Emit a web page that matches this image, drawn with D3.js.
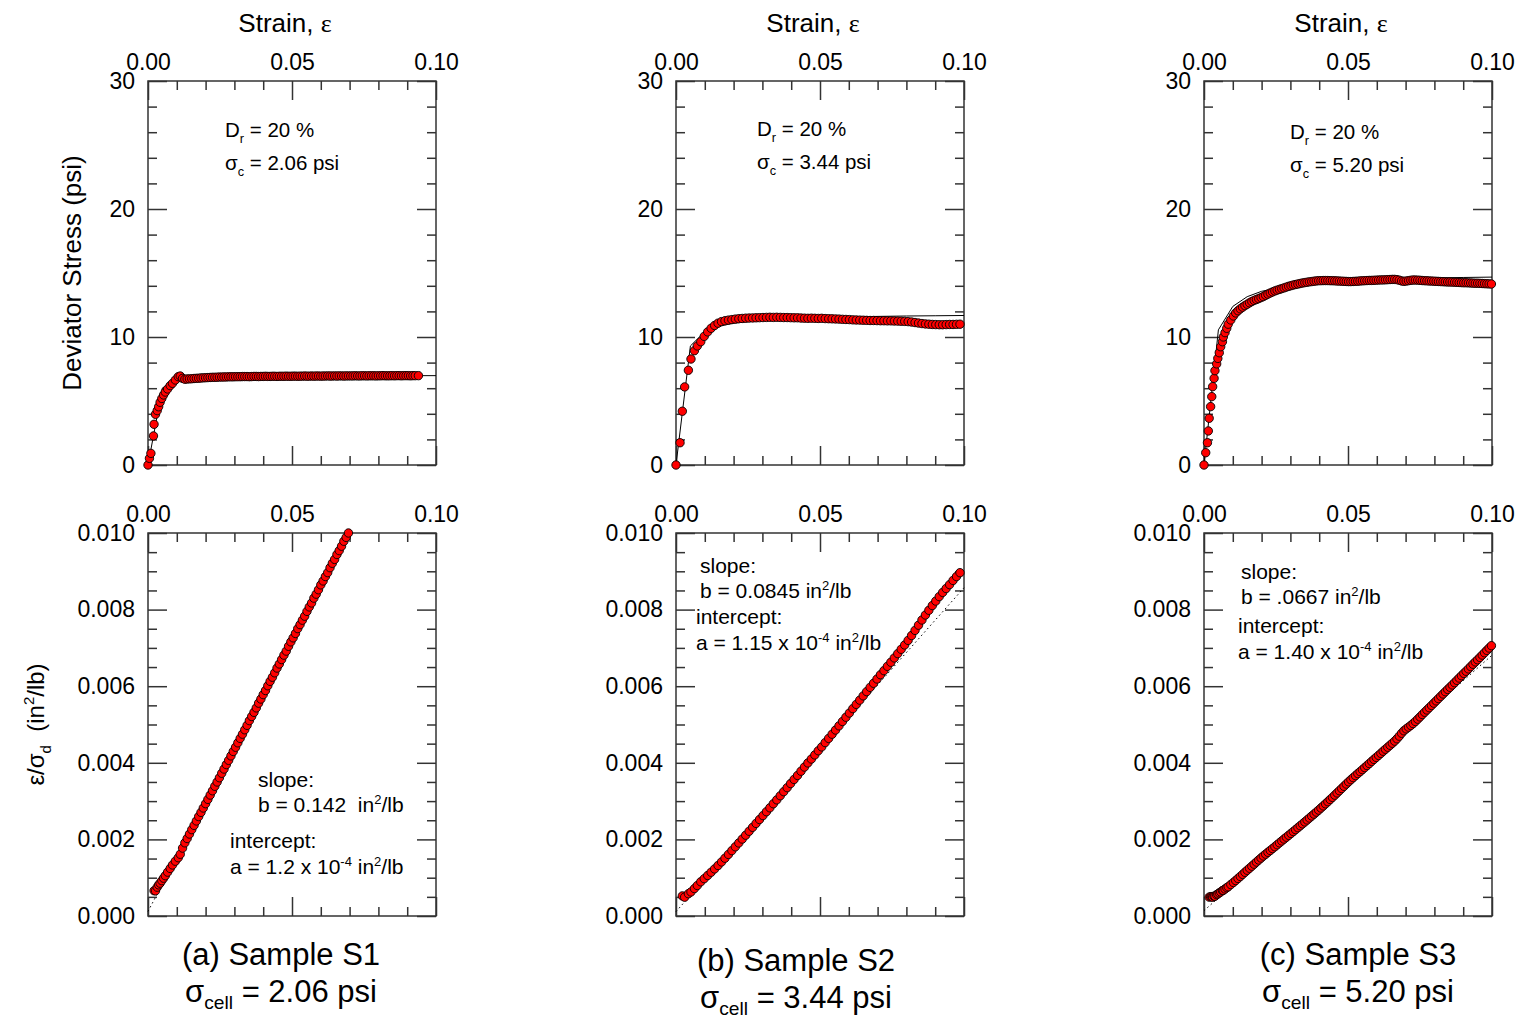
<!DOCTYPE html>
<html>
<head>
<meta charset="utf-8">
<script src="https://cdn.jsdelivr.net/npm/d3@7"></script>
<style>
  body { margin: 0; background: #fff; }
  text { font-family: "Liberation Sans", Arial, sans-serif; fill: #000; }
</style>
</head>
<body>
<div id="chart"></div>
<script>
// ---- data ----
const captions = ["(a) Sample S1", "(b) Sample S2", "(c) Sample S3"];
const cellPressure = ["2.06", "3.44", "5.20"];
const relDensity = "20";
const slopeLabels = ["b = 0.142  in", "b = 0.0845 in", "b = .0667 in"];
const interceptLabels = ["a = 1.2 x 10", "a = 1.15 x 10", "a = 1.40 x 10"];

const strainTicks = [0, 0.05, 0.10];
const strainMinor = [0.01, 0.02, 0.03, 0.04, 0.06, 0.07, 0.08, 0.09];
const stressTicks = [0, 10, 20, 30];
const stressMinor = [2, 4, 6, 8, 12, 14, 16, 18, 22, 24, 26, 28];
const ratioTicks = [0, 0.002, 0.004, 0.006, 0.008, 0.010];
const ratioMinor = [0.0005, 0.001, 0.0015, 0.0025, 0.003, 0.0035, 0.0045, 0.005, 0.0055,
  0.0065, 0.007, 0.0075, 0.0085, 0.009, 0.0095];

// [strain, deviator stress (psi)]
const s1Data = [
  [0, 0], [0.0005, 0.52], [0.0010, 0.91], [0.0019, 2.27], [0.0021, 3.18], [0.0026, 3.96], [0.0032, 4.25],
  [0.0037, 4.55], [0.0042, 4.90], [0.0048, 5.20], [0.0054, 5.47], [0.0060, 5.70], [0.0068, 5.94],
  [0.0077, 6.20], [0.0085, 6.38], [0.0095, 6.64], [0.0105, 6.90], [0.0112, 6.95], [0.0120, 6.77],
  [0.0128, 6.70], [0.0136, 6.72], [0.0144, 6.73], [0.0152, 6.74], [0.0160, 6.76], [0.0168, 6.77],
  [0.0176, 6.78], [0.0184, 6.80], [0.0192, 6.81], [0.0200, 6.82], [0.0208, 6.83], [0.0216, 6.84],
  [0.0224, 6.85], [0.0232, 6.85], [0.0240, 6.86], [0.0248, 6.87], [0.0256, 6.87], [0.0264, 6.88],
  [0.0272, 6.88], [0.0280, 6.89], [0.0288, 6.89], [0.0296, 6.89], [0.0304, 6.90], [0.0312, 6.90],
  [0.0320, 6.90], [0.0328, 6.91], [0.0336, 6.91], [0.0344, 6.91], [0.0352, 6.90], [0.0360, 6.91],
  [0.0368, 6.92], [0.0376, 6.92], [0.0384, 6.91], [0.0392, 6.92], [0.0400, 6.92], [0.0408, 6.93],
  [0.0416, 6.92], [0.0424, 6.92], [0.0432, 6.93], [0.0440, 6.93], [0.0448, 6.92], [0.0456, 6.93],
  [0.0464, 6.93], [0.0472, 6.93], [0.0480, 6.94], [0.0488, 6.93], [0.0496, 6.93], [0.0504, 6.94],
  [0.0512, 6.94], [0.0520, 6.93], [0.0528, 6.94], [0.0536, 6.94], [0.0544, 6.95], [0.0552, 6.94],
  [0.0560, 6.94], [0.0568, 6.95], [0.0576, 6.94], [0.0584, 6.95], [0.0592, 6.95], [0.0600, 6.94],
  [0.0608, 6.95], [0.0616, 6.95], [0.0624, 6.96], [0.0632, 6.95], [0.0640, 6.95], [0.0648, 6.96],
  [0.0656, 6.95], [0.0664, 6.96], [0.0672, 6.96], [0.0680, 6.95], [0.0688, 6.96], [0.0696, 6.96],
  [0.0704, 6.96], [0.0712, 6.96], [0.0720, 6.97], [0.0728, 6.96], [0.0736, 6.96], [0.0744, 6.97],
  [0.0752, 6.97], [0.0760, 6.96], [0.0768, 6.97], [0.0776, 6.97], [0.0784, 6.97], [0.0792, 6.96],
  [0.0800, 6.97], [0.0808, 6.97], [0.0816, 6.98], [0.0824, 6.97], [0.0832, 6.97], [0.0840, 6.97],
  [0.0848, 6.98], [0.0856, 6.97], [0.0864, 6.98], [0.0872, 6.98], [0.0880, 6.97], [0.0888, 6.98],
  [0.0896, 6.98], [0.0904, 6.98], [0.0912, 6.97], [0.0920, 6.98], [0.0928, 6.98], [0.0939, 6.98]
];

const s2Data = [
  [0, 0], [0.0014, 1.74], [0.0022, 4.20], [0.0030, 6.10], [0.0043, 7.40], [0.0052, 8.28], [0.0064, 8.93],
  [0.0074, 9.30], [0.0086, 9.63], [0.0098, 10.05], [0.0110, 10.40], [0.0122, 10.68], [0.0134, 10.90],
  [0.0146, 11.08], [0.0158, 11.20], [0.0170, 11.27], [0.0182, 11.32], [0.0194, 11.36], [0.0206, 11.40],
  [0.0218, 11.43], [0.0230, 11.45], [0.0242, 11.47], [0.0254, 11.48], [0.0266, 11.49], [0.0278, 11.50],
  [0.0290, 11.51], [0.0302, 11.52], [0.0314, 11.53], [0.0326, 11.54], [0.0338, 11.53], [0.0350, 11.54],
  [0.0362, 11.53], [0.0374, 11.52], [0.0386, 11.52], [0.0398, 11.51], [0.0410, 11.50], [0.0422, 11.50],
  [0.0434, 11.48], [0.0446, 11.47], [0.0458, 11.46], [0.0470, 11.47], [0.0482, 11.46], [0.0494, 11.45],
  [0.0506, 11.46], [0.0518, 11.44], [0.0530, 11.43], [0.0542, 11.42], [0.0554, 11.41], [0.0566, 11.40],
  [0.0578, 11.38], [0.0590, 11.37], [0.0602, 11.36], [0.0614, 11.34], [0.0626, 11.33], [0.0638, 11.32],
  [0.0650, 11.31], [0.0662, 11.30], [0.0674, 11.29], [0.0686, 11.29], [0.0698, 11.28], [0.0710, 11.27],
  [0.0722, 11.27], [0.0734, 11.26], [0.0746, 11.26], [0.0758, 11.25], [0.0770, 11.24], [0.0782, 11.23],
  [0.0794, 11.22], [0.0806, 11.20], [0.0818, 11.17], [0.0830, 11.13], [0.0842, 11.09], [0.0854, 11.05],
  [0.0866, 11.02], [0.0878, 11.00], [0.0890, 10.98], [0.0902, 10.97], [0.0914, 10.96], [0.0926, 10.96],
  [0.0938, 10.97], [0.0950, 10.98], [0.0962, 10.98], [0.0974, 10.99], [0.0986, 11.00]
];

const s3Data = [
  [0, 0], [0.0006, 0.96], [0.0012, 1.74], [0.0015, 2.66], [0.0018, 3.65], [0.0023, 4.56], [0.0027, 5.34],
  [0.0030, 6.12], [0.0035, 6.77], [0.0038, 7.37], [0.0044, 7.90], [0.0048, 8.33], [0.0053, 8.77],
  [0.0058, 9.24], [0.0064, 9.63], [0.0067, 10.00], [0.0073, 10.34], [0.0079, 10.68], [0.0084, 11.00],
  [0.0093, 11.33], [0.0102, 11.64],
  [0.0110, 11.88], [0.0118, 12.05], [0.0126, 12.20], [0.0134, 12.33], [0.0142, 12.45], [0.0150, 12.56],
  [0.0158, 12.67], [0.0166, 12.77], [0.0174, 12.86], [0.0182, 12.93], [0.0190, 13.00], [0.0198, 13.08],
  [0.0206, 13.16], [0.0214, 13.26], [0.0222, 13.35], [0.0230, 13.44], [0.0238, 13.52], [0.0246, 13.60],
  [0.0254, 13.66], [0.0262, 13.72], [0.0270, 13.78], [0.0278, 13.84], [0.0286, 13.90], [0.0294, 13.96],
  [0.0302, 14.01], [0.0310, 14.06], [0.0318, 14.10], [0.0326, 14.14], [0.0334, 14.18], [0.0342, 14.22],
  [0.0350, 14.25], [0.0358, 14.28], [0.0366, 14.31], [0.0374, 14.33], [0.0382, 14.36], [0.0390, 14.38],
  [0.0398, 14.40], [0.0406, 14.40], [0.0414, 14.41], [0.0422, 14.41], [0.0430, 14.41], [0.0438, 14.40],
  [0.0446, 14.40], [0.0454, 14.39], [0.0462, 14.38], [0.0470, 14.37], [0.0478, 14.36], [0.0486, 14.35],
  [0.0494, 14.34], [0.0502, 14.33], [0.0510, 14.33], [0.0518, 14.34], [0.0526, 14.35], [0.0534, 14.36],
  [0.0542, 14.38], [0.0550, 14.39], [0.0558, 14.40], [0.0566, 14.41], [0.0574, 14.42], [0.0582, 14.42],
  [0.0590, 14.43], [0.0598, 14.44], [0.0606, 14.45], [0.0614, 14.46], [0.0622, 14.46], [0.0630, 14.47],
  [0.0638, 14.48], [0.0646, 14.49], [0.0654, 14.50], [0.0662, 14.50], [0.0670, 14.48], [0.0678, 14.44],
  [0.0686, 14.38], [0.0694, 14.35], [0.0702, 14.37], [0.0710, 14.40], [0.0718, 14.43], [0.0726, 14.45],
  [0.0734, 14.45], [0.0742, 14.44], [0.0750, 14.43], [0.0758, 14.41], [0.0766, 14.40], [0.0774, 14.39],
  [0.0782, 14.38], [0.0790, 14.37], [0.0798, 14.36], [0.0806, 14.35], [0.0814, 14.34], [0.0822, 14.33],
  [0.0830, 14.32], [0.0838, 14.31], [0.0846, 14.30], [0.0854, 14.30], [0.0862, 14.29], [0.0870, 14.28],
  [0.0878, 14.27], [0.0886, 14.26], [0.0894, 14.25], [0.0902, 14.24], [0.0910, 14.24], [0.0918, 14.23],
  [0.0926, 14.22], [0.0934, 14.21], [0.0942, 14.20], [0.0950, 14.20], [0.0958, 14.19], [0.0966, 14.18],
  [0.0974, 14.17], [0.0982, 14.16], [0.0990, 14.15], [0.0998, 14.14]
];

// hyperbolic fit curves drawn as a thin black line (strain, psi)
const s1HypFit = [[0, 0], [0.005, 6.02], [0.01, 6.49], [0.015, 6.67], [0.02, 6.76], [0.03, 6.85], [0.04, 6.90],
  [0.05, 6.93], [0.06, 6.94], [0.07, 6.96], [0.08, 6.97], [0.09, 6.98], [0.10, 6.98]];
const s2HypFit = [[0, 0], [0.005, 9.30], [0.01, 10.42], [0.015, 10.85], [0.02, 11.08], [0.03, 11.32], [0.04, 11.44],
  [0.05, 11.52], [0.06, 11.57], [0.07, 11.61], [0.08, 11.64], [0.09, 11.66], [0.10, 11.68]];
const s3HypFit = [[0, 0], [0.005, 10.56], [0.01, 12.39], [0.015, 13.15], [0.02, 13.57], [0.03, 14.01], [0.04, 14.25],
  [0.05, 14.39], [0.06, 14.49], [0.07, 14.56], [0.08, 14.61], [0.09, 14.65], [0.10, 14.68]];

// linear fits in transformed space (strain, in^2/lb), dotted
const s1LinFit = [[0, 0.00012], [0.0696, 0.0100]];
const s2LinFit = [[0, 0.000115], [0.1, 0.00857]];
const s3LinFit = [[0, 0.00014], [0.1, 0.00681]];

// first point used in the transformed plot
const transformFrom = [4, 2, 4];

const datasets = [s1Data, s2Data, s3Data];
const hypFits = [s1HypFit, s2HypFit, s3HypFit];
const linFits = [s1LinFit, s2LinFit, s3LinFit];

// ---- layout ----
const W = 1521, H = 1022;
const panelLeft = [148, 676, 1204];
const panelW = 288;
const topBox = { top: 81, bottom: 465 };
const botBox = { top: 533, bottom: 916 };
const axisColor = "#333";

const svg = d3.select("#chart").append("svg")
  .attr("width", W).attr("height", H);

function ticks(g, axis, size) {
  g.call(axis.tickSize(size))
    .call(s => s.select(".domain").remove());
  g.selectAll(".tick line").attr("stroke", axisColor).attr("stroke-width", 1.5);
  g.selectAll(".tick text")
    .attr("font-family", "Liberation Sans, Arial, sans-serif")
    .attr("font-size", 23)
    .attr("fill", "#000");
  g.attr("font-family", null).attr("font-size", null);
  return g;
}

function drawFrame(x, y, yMajor, yMinor, yFmt) {
  const [x0, x1] = x.range();
  const [yb, yt] = y.range();
  // x minor / major, top and bottom, pointing inwards
  ticks(svg.append("g").attr("transform", `translate(0,${yt})`),
    d3.axisTop(x).tickValues(strainMinor).tickFormat(""), -9);
  ticks(svg.append("g").attr("transform", `translate(0,${yb})`),
    d3.axisBottom(x).tickValues(strainMinor).tickFormat(""), -9);
  ticks(svg.append("g").attr("transform", `translate(0,${yt})`),
    d3.axisTop(x).tickValues(strainTicks).tickFormat(d3.format(".2f")).tickPadding(11), -19);
  ticks(svg.append("g").attr("transform", `translate(0,${yb})`),
    d3.axisBottom(x).tickValues(strainTicks).tickFormat(""), -19);
  // y minor / major, left and right
  ticks(svg.append("g").attr("transform", `translate(${x0},0)`),
    d3.axisLeft(y).tickValues(yMinor).tickFormat(""), -9);
  ticks(svg.append("g").attr("transform", `translate(${x1},0)`),
    d3.axisRight(y).tickValues(yMinor).tickFormat(""), -9);
  ticks(svg.append("g").attr("transform", `translate(${x0},0)`),
    d3.axisLeft(y).tickValues(yMajor).tickFormat(yFmt).tickPadding(13), -19);
  ticks(svg.append("g").attr("transform", `translate(${x1},0)`),
    d3.axisRight(y).tickValues(yMajor).tickFormat(""), -19);

  svg.append("rect")
    .attr("x", x0).attr("y", yt)
    .attr("width", x1 - x0).attr("height", yb - yt)
    .attr("fill", "none")
    .attr("stroke", axisColor)
    .attr("stroke-width", 1.5);
}

// text with sub/superscript parts: [string, "sub"|"sup"|null]
function richText(x, y, parts, size, anchor, subShift) {
  const t = svg.append("text")
    .attr("x", x).attr("y", y)
    .attr("font-size", size)
    .attr("text-anchor", anchor || "start")
    .style("white-space", "pre");
  let shift = 0;
  parts.forEach(([s, kind]) => {
    let target = 0;
    if (kind === "sub") target = size * (subShift || 0.3);
    if (kind === "sup") target = -size * 0.4;
    const ts = t.append("tspan").text(s).attr("dy", target - shift);
    if (kind) ts.attr("font-size", size * 0.62);
    shift = target;
  });
  return t;
}

const strainTitleX = [285, 813, 1341];
const noteX = [225, 757, 1290];
const noteY = [137, 136, 139];
const slopeX = [258, 700, 1241];
const slopeY = [787, 573, 579];
const interX = [230, 696, 1238];
const interY = [848, 624, 633];
const capX = [281, 796, 1358];
const capY = [965, 971, 965];

datasets.forEach((data, i) => {
  const left = panelLeft[i];
  const x = d3.scaleLinear().domain([0, 0.1]).range([left, left + panelW]);
  const yTop = d3.scaleLinear().domain([0, 30]).range([topBox.bottom, topBox.top]);
  const yBot = d3.scaleLinear().domain([0, 0.01]).range([botBox.bottom, botBox.top]);

  // ---------- top: deviator stress vs strain ----------
  drawFrame(x, yTop, stressTicks, stressMinor, d3.format("d"));

  svg.append("text")
    .attr("x", strainTitleX[i]).attr("y", 32)
    .attr("text-anchor", "middle")
    .attr("font-size", 26)
    .html('Strain, <tspan font-family="Liberation Serif, Times New Roman, serif">ε</tspan>');

  const hypLine = d3.line().x(d => x(d[0])).y(d => yTop(d[1]));
  svg.append("path")
    .attr("d", hypLine(hypFits[i]))
    .attr("fill", "none")
    .attr("stroke", "#000")
    .attr("stroke-width", 1);

  svg.append("g").selectAll("circle")
    .data(data)
    .join("circle")
    .attr("cx", d => x(d[0]))
    .attr("cy", d => yTop(d[1]))
    .attr("r", 4.2)
    .attr("fill", "#ff0000")
    .attr("stroke", "#000")
    .attr("stroke-width", 0.9);

  richText(noteX[i], noteY[i], [["D", null], ["r", "sub"], [" = " + relDensity + " %", null]], 20.5);
  richText(noteX[i], noteY[i] + 33, [["σ", null], ["c", "sub"], [" = " + cellPressure[i] + " psi", null]], 20.5);

  // ---------- bottom: strain / stress vs strain ----------
  drawFrame(x, yBot, ratioTicks, ratioMinor, d3.format(".3f"));

  const ratio = data.slice(transformFrom[i])
    .map(d => [d[0], d[0] / d[1]])
    .filter(d => d[1] <= 0.01001);

  const linLine = d3.line().x(d => x(d[0])).y(d => yBot(d[1]));
  svg.append("path")
    .attr("d", linLine(linFits[i]))
    .attr("fill", "none")
    .attr("stroke", "#000")
    .attr("stroke-width", 1)
    .attr("stroke-dasharray", "1.5,3");

  svg.append("g").selectAll("circle")
    .data(ratio)
    .join("circle")
    .attr("cx", d => x(d[0]))
    .attr("cy", d => yBot(d[1]))
    .attr("r", 4.2)
    .attr("fill", "#ff0000")
    .attr("stroke", "#000")
    .attr("stroke-width", 0.9);

  richText(slopeX[i], slopeY[i], [["slope:", null]], 21);
  richText(slopeX[i], slopeY[i] + 25, [[slopeLabels[i], null], ["2", "sup"], ["/lb", null]], 21);
  richText(interX[i], interY[i], [["intercept:", null]], 21);
  richText(interX[i], interY[i] + 26, [[interceptLabels[i], null], ["-4", "sup"], [" in", null], ["2", "sup"], ["/lb", null]], 21);

  // ---------- caption ----------
  svg.append("text")
    .attr("x", capX[i]).attr("y", capY[i])
    .attr("text-anchor", "middle")
    .attr("font-size", 31)
    .text(captions[i]);
  richText(capX[i], capY[i] + 37, [["σ", null], ["cell", "sub"], [" = " + cellPressure[i] + " psi", null]], 31, "middle", 0.24);
});

// y-axis titles (first column only)
svg.append("text")
  .attr("transform", `translate(81,${(topBox.top + topBox.bottom) / 2}) rotate(-90)`)
  .attr("text-anchor", "middle")
  .attr("font-size", 26)
  .text("Deviator Stress (psi)");

const yl = svg.append("text")
  .attr("transform", `translate(44,${(botBox.top + botBox.bottom) / 2}) rotate(-90)`)
  .attr("text-anchor", "middle")
  .attr("font-size", 24)
  .style("white-space", "pre");
yl.append("tspan").text("ε/σ");
yl.append("tspan").text("d").attr("font-size", 15).attr("dy", 7);
yl.append("tspan").text("  (in").attr("dy", -7);
yl.append("tspan").text("2").attr("font-size", 15).attr("dy", -10);
yl.append("tspan").text("/lb)").attr("dy", 10);
</script>
</body>
</html>
